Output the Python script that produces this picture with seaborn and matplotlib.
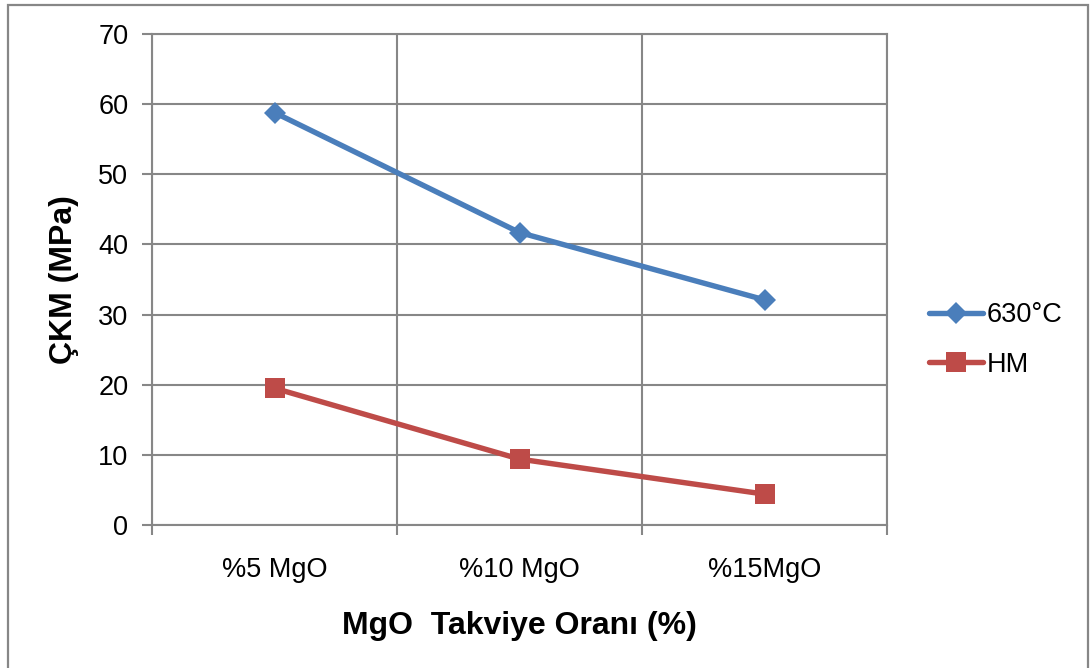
import matplotlib
matplotlib.use("Agg")
import matplotlib.pyplot as plt
from matplotlib.patches import Rectangle
from matplotlib.lines import Line2D
import seaborn as sns
import pandas as pd

# Data
categories = ["%5 MgO", "%10 MgO", "%15MgO"]
series_names = ["630°C", "HM"]
values_630 = [58.8, 41.7, 32.1]
values_hm = [19.5, 9.4, 4.4]
y_ticks = [0, 10, 20, 30, 40, 50, 60, 70]

sns.set_theme(style="white")
plt.rcParams["font.family"] = ["Liberation Sans", "DejaVu Sans"]
plt.rcParams["text.color"] = "black"
plt.rcParams["axes.labelcolor"] = "black"
plt.rcParams["xtick.color"] = "black"
plt.rcParams["ytick.color"] = "black"

df = pd.DataFrame({
    "pos": list(range(len(categories))) * 2,
    "value": values_630 + values_hm,
    "series": [series_names[0]] * 3 + [series_names[1]] * 3,
})

colors = {"630°C": "#4A7EBB", "HM": "#BE4B48"}
markers = {"630°C": "D", "HM": "s"}
msizes = {"630°C": 11, "HM": 14}
lw = 3.9
tick_fs = 19.5
title_fs = 23

fig = plt.figure(figsize=(10.92, 6.68), dpi=100)
ax = fig.add_axes([152 / 1092, 1 - 525 / 668, (887 - 152) / 1092, (525 - 34) / 668])

grid_c = "#878787"

for name in series_names:
    sub = df[df["series"] == name]
    sns.lineplot(data=sub, x="pos", y="value", ax=ax, color=colors[name],
                 linewidth=lw, marker=markers[name], markersize=msizes[name],
                 markeredgewidth=0, label=name, legend=False)

ax.set_xlim(-0.5, len(categories) - 0.5)
ax.set_ylim(0, 70)
ax.set_yticks(y_ticks)
ax.set_xticks([i - 0.5 for i in range(len(categories) + 1)])
ax.set_xticklabels([])
ax.set_xticks(range(len(categories)), minor=True)
ax.set_xticklabels(categories, minor=True, fontsize=tick_fs)
ax.tick_params(axis="x", which="minor", length=0, pad=23, labelcolor="black")
ax.tick_params(axis="x", which="major", length=7, width=1.5, color=grid_c, direction="out", bottom=True)
ax.tick_params(axis="y", length=7, width=1.5, color=grid_c, direction="out", left=True,
               labelsize=tick_fs, pad=10, labelcolor="black")

ax.grid(True, which="major", color=grid_c, linewidth=1.5)
ax.set_axisbelow(True)
for sp in ax.spines.values():
    sp.set_color(grid_c)
    sp.set_linewidth(1.5)

ax.set_xlabel("MgO  Takviye Oranı (%)", fontsize=title_fs, fontweight="bold", labelpad=20)
ax.set_ylabel("ÇKM (MPa)", fontsize=title_fs, fontweight="bold", labelpad=14)

handles = [Line2D([], [], color=colors[n], linewidth=lw, marker=markers[n],
                  markersize=msizes[n], markeredgewidth=0) for n in series_names]
fig.legend(handles, series_names, loc="center left",
           bbox_to_anchor=(929 / 1092, 1 - 340 / 668), bbox_transform=fig.transFigure,
           frameon=False, fontsize=tick_fs, handlelength=2.0, handletextpad=0.12,
           borderpad=0, borderaxespad=0, labelspacing=0.85)

# Chart border
fig.patches.append(Rectangle((8 / 1092, -0.01), 1080 / 1092, 1.01 - 5 / 668,
                             transform=fig.transFigure, fill=False,
                             edgecolor=grid_c, linewidth=1.6))

fig.savefig("out.png", dpi=100)
